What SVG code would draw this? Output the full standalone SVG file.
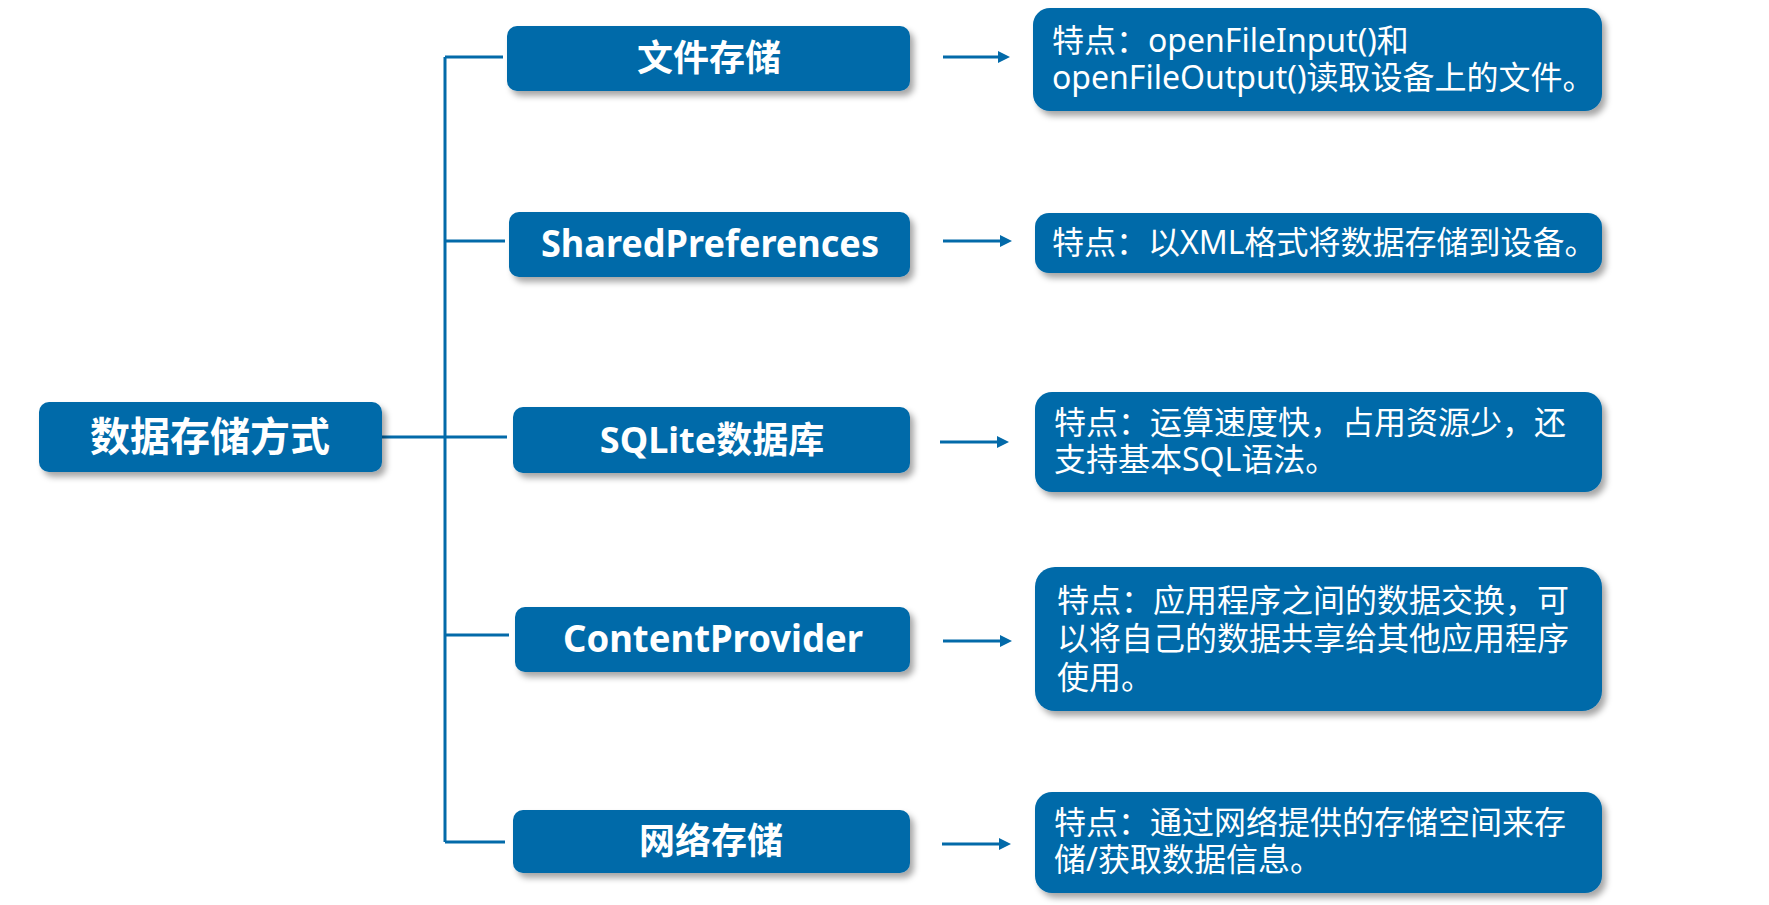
<svg xmlns="http://www.w3.org/2000/svg" width="1769" height="905" viewBox="0 0 1769 905">
<defs>
<style>
.box{fill:#036AA9;filter:url(#sh);}
.lt{font-family:"Noto Sans","Noto Sans CJK SC",sans-serif;font-weight:bold;fill:#fff;text-anchor:middle;}
.rt{font-family:"Noto Sans","Noto Sans CJK SC",sans-serif;font-size:32px;fill:#fff;}
.ln{stroke:#036AA9;stroke-width:3;fill:none;}
.ar{stroke:#036AA9;stroke-width:3;fill:none;marker-end:url(#ah);}
</style>
<filter id="sh" x="-10%" y="-20%" width="125%" height="150%">
<feDropShadow dx="4" dy="5" stdDeviation="3" flood-color="#000" flood-opacity="0.35"/>
</filter>
<marker id="ah" markerWidth="4" markerHeight="4" refX="1" refY="2" orient="auto" markerUnits="strokeWidth">
<path d="M0,0 L4,2 L0,4 Z" fill="#036AA9"/>
</marker>
</defs>
<rect width="1769" height="905" fill="#fff"/>
<g id="connectors">
<path class="ln" d="M382,437 H507"/>
<path class="ln" d="M445,57 V842"/>
<path class="ln" d="M445,57 H503"/>
<path class="ln" d="M445,241 H505"/>
<path class="ln" d="M445,635 H509"/>
<path class="ln" d="M445,842 H505"/>
<path class="ar" d="M943,57 H1001"/>
<path class="ar" d="M943,241 H1003"/>
<path class="ar" d="M940,442 H1000"/>
<path class="ar" d="M943,641 H1003"/>
<path class="ar" d="M942,844 H1002"/>
</g>
<g id="root">
<rect class="box" x="39" y="402" width="343" height="70" rx="10"/>
<text class="lt" x="210" y="451" font-size="40">数据存储方式</text>
</g>
<g id="n-file">
<rect class="box" x="507" y="26" width="403" height="65" rx="10"/>
<text class="lt" x="709" y="71" font-size="36">文件存储</text>
</g>
<g id="n-sp">
<rect class="box" x="509" y="212" width="401" height="65" rx="10"/>
<text class="lt" x="710" y="257" font-size="37" textLength="338" lengthAdjust="spacingAndGlyphs">SharedPreferences</text>
</g>
<g id="n-sqlite">
<rect class="box" x="513" y="407" width="397" height="66" rx="10"/>
<text class="lt" x="712" y="453" font-size="36">SQLite数据库</text>
</g>
<g id="n-cp">
<rect class="box" x="515" y="607" width="395" height="65" rx="10"/>
<text class="lt" x="713" y="652" font-size="37" textLength="300" lengthAdjust="spacingAndGlyphs">ContentProvider</text>
</g>
<g id="n-net">
<rect class="box" x="513" y="810" width="397" height="63" rx="10"/>
<text class="lt" x="711" y="854" font-size="36">网络存储</text>
</g>
<g id="d-file">
<rect class="box" x="1033" y="8" width="569" height="103" rx="17"/>
<text class="rt" x="1052" y="52">特点：openFileInput()和<tspan x="1052" dy="37">openFileOutput()读取设备上的文件。</tspan></text>
</g>
<g id="d-sp">
<rect class="box" x="1035" y="213" width="567" height="60" rx="14"/>
<text class="rt" x="1052" y="254">特点：以XML格式将数据存储到设备。</text>
</g>
<g id="d-sqlite">
<rect class="box" x="1035" y="392" width="567" height="100" rx="17"/>
<text class="rt" x="1054" y="434">特点：运算速度快，占用资源少，还<tspan x="1054" dy="37">支持基本SQL语法。</tspan></text>
</g>
<g id="d-cp">
<rect class="box" x="1035" y="567" width="567" height="144" rx="20"/>
<text class="rt" x="1057" y="612">特点：应用程序之间的数据交换，可<tspan x="1057" dy="38">以将自己的数据共享给其他应用程序</tspan><tspan x="1057" dy="39">使用。</tspan></text>
</g>
<g id="d-net">
<rect class="box" x="1035" y="792" width="567" height="101" rx="17"/>
<text class="rt" x="1054" y="834">特点：通过网络提供的存储空间来存<tspan x="1054" dy="37">储/获取数据信息。</tspan></text>
</g>
</svg>
